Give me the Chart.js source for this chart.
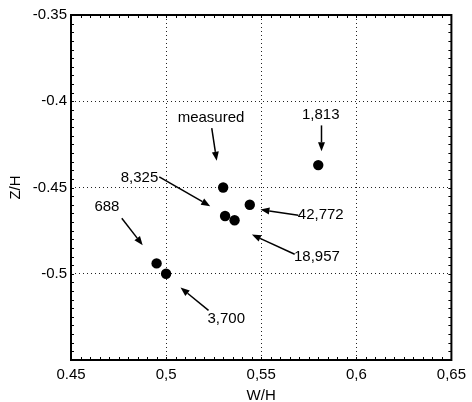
<!DOCTYPE html>
<html>
<head>
<meta charset="utf-8">
<script src="https://cdn.jsdelivr.net/npm/chart.js@4.4.1/dist/chart.umd.min.js"></script>
<style>
  html, body { margin: 0; padding: 0; background: #fff; }
  canvas { display: block; }
</style>
</head>
<body>
<canvas id="wzChart" width="472" height="402"></canvas>
<script>
// run labels and measured point positions
const runLabels = ['measured', '1,813', '42,772', '8,325', '18,957', '688', '3,700'];
const widthRatio = [0.530, 0.580, 0.544, 0.531, 0.536, 0.495, 0.500];
const depthRatio = [-0.450, -0.437, -0.460, -0.4665, -0.469, -0.494, -0.500];

// tick labels as printed on the original
const xTickLabels = ['0.45', '0,5', '0,55', '0,6', '0,65'];
const yTickLabels = ['-0.55', '-0.5', '-0.45', '-0.4', '-0.35'];

// callout text + arrow (tail -> head), in data units
const callouts = [
  { text: 'measured', tx: 0.5236, ty: -0.4098, x0: 0.5240, y0: -0.4156, x1: 0.5266, y1: -0.4345 },
  { text: '1,813', tx: 0.5813, ty: -0.4080, x0: 0.5817, y0: -0.4140, x1: 0.5817, y1: -0.4290 },
  { text: '42,772', tx: 0.5813, ty: -0.4661, x0: 0.5695, y0: -0.4661, x1: 0.5496, y1: -0.4628 },
  { text: '8,325', tx: 0.4860, ty: -0.4446, x0: 0.4964, y0: -0.4438, x1: 0.5232, y1: -0.4608 },
  { text: '18,957', tx: 0.5793, ty: -0.4904, x0: 0.5676, y0: -0.4887, x1: 0.5451, y1: -0.4773 },
  { text: '688', tx: 0.4689, ty: -0.4614, x0: 0.4767, y0: -0.4678, x1: 0.4877, y1: -0.4835 },
  { text: '3,700', tx: 0.5316, ty: -0.5259, x0: 0.5223, y0: -0.5212, x1: 0.5076, y1: -0.5080 },
];

const FONT = '"Liberation Sans", Arial, sans-serif';

// frame, inward minor ticks (every 0.005) and callouts
const decorPlugin = {
  id: 'decor',
  afterDatasetsDraw(chart) {
    const { ctx, chartArea: a, scales: { x, y } } = chart;
    ctx.save();
    // minor ticks
    ctx.strokeStyle = '#000';
    ctx.lineWidth = 1;
    ctx.beginPath();
    for (let i = 0; i <= 40; i++) {
      const px = Math.round(x.getPixelForValue(0.45 + i * 0.005)) + 0.5;
      ctx.moveTo(px, a.bottom); ctx.lineTo(px, a.bottom - 3);
      ctx.moveTo(px, a.top); ctx.lineTo(px, a.top + 3);
      const py = Math.round(y.getPixelForValue(-0.55 + i * 0.005)) + 0.5;
      ctx.moveTo(a.left, py); ctx.lineTo(a.left + 3, py);
      ctx.moveTo(a.right, py); ctx.lineTo(a.right - 3, py);
    }
    ctx.stroke();
    // frame
    ctx.lineWidth = 2;
    ctx.strokeRect(a.left, a.top, a.right - a.left, a.bottom - a.top);

    // callouts
    ctx.fillStyle = '#000';
    ctx.font = '15px ' + FONT;
    ctx.textAlign = 'center';
    ctx.textBaseline = 'middle';
    callouts.forEach(c => {
      ctx.fillText(c.text, x.getPixelForValue(c.tx), y.getPixelForValue(c.ty));
      const x0 = x.getPixelForValue(c.x0), y0 = y.getPixelForValue(c.y0);
      const x1 = x.getPixelForValue(c.x1), y1 = y.getPixelForValue(c.y1);
      const ang = Math.atan2(y1 - y0, x1 - x0);
      const hl = 9, hw = 3.5;
      const bx = x1 - hl * Math.cos(ang), by = y1 - hl * Math.sin(ang);
      ctx.lineWidth = 1.5;
      ctx.beginPath();
      ctx.moveTo(x0, y0);
      ctx.lineTo(bx, by);
      ctx.stroke();
      ctx.beginPath();
      ctx.moveTo(x1, y1);
      ctx.lineTo(bx + hw * Math.sin(ang), by - hw * Math.cos(ang));
      ctx.lineTo(bx - hw * Math.sin(ang), by + hw * Math.cos(ang));
      ctx.closePath();
      ctx.fill();
    });
    ctx.restore();
  }
};

const gridStyle = {
  color: '#222',
  lineWidth: 1,
  drawTicks: false,
};

new Chart(document.getElementById('wzChart'), {
  type: 'scatter',
  data: {
    datasets: [{
      label: 'W/H vs Z/H',
      data: widthRatio.map((w, i) => ({ x: w, y: depthRatio[i], run: runLabels[i] })),
      backgroundColor: '#000',
      borderWidth: 0,
      pointRadius: 5.2,
    }],
  },
  options: {
    responsive: false,
    animation: false,
    layout: { padding: { left: 0, top: 15, right: 16, bottom: 0 } },
    plugins: {
      legend: { display: false },
      tooltip: { enabled: false },
    },
    scales: {
      x: {
        type: 'linear',
        min: 0.45,
        max: 0.65,
        afterFit: (s) => { s.height = 42; },
        afterBuildTicks: (s) => { s.ticks = xTickLabels.map((_, i) => ({ value: 0.45 + i * 0.05 })); },
        ticks: {
          padding: 6,
          color: '#000',
          font: { family: FONT, size: 15 },
          callback: (v, i) => xTickLabels[i],
        },
        grid: gridStyle,
        border: { display: false, dash: [1, 3] },
        title: {
          display: true,
          text: 'W/H',
          color: '#000',
          font: { family: FONT, size: 15, lineHeight: 0.8 },
          padding: { top: 0, bottom: 0 },
        },
      },
      y: {
        type: 'linear',
        min: -0.55,
        max: -0.35,
        afterFit: (s) => { s.width = 71; },
        afterBuildTicks: (s) => { s.ticks = yTickLabels.map((_, i) => ({ value: -0.55 + i * 0.05 })); },
        ticks: {
          padding: 4,
          color: '#000',
          font: { family: FONT, size: 15 },
          callback: (v, i) => (i === 0 ? '' : yTickLabels[i]),
        },
        grid: gridStyle,
        border: { display: false, dash: [1, 3] },
        title: {
          display: true,
          text: 'Z/H',
          color: '#000',
          font: { family: FONT, size: 15, lineHeight: 1 },
          padding: { top: 8, bottom: 0 },
        },
      },
    },
  },
  plugins: [decorPlugin],
});
</script>
</body>
</html>
